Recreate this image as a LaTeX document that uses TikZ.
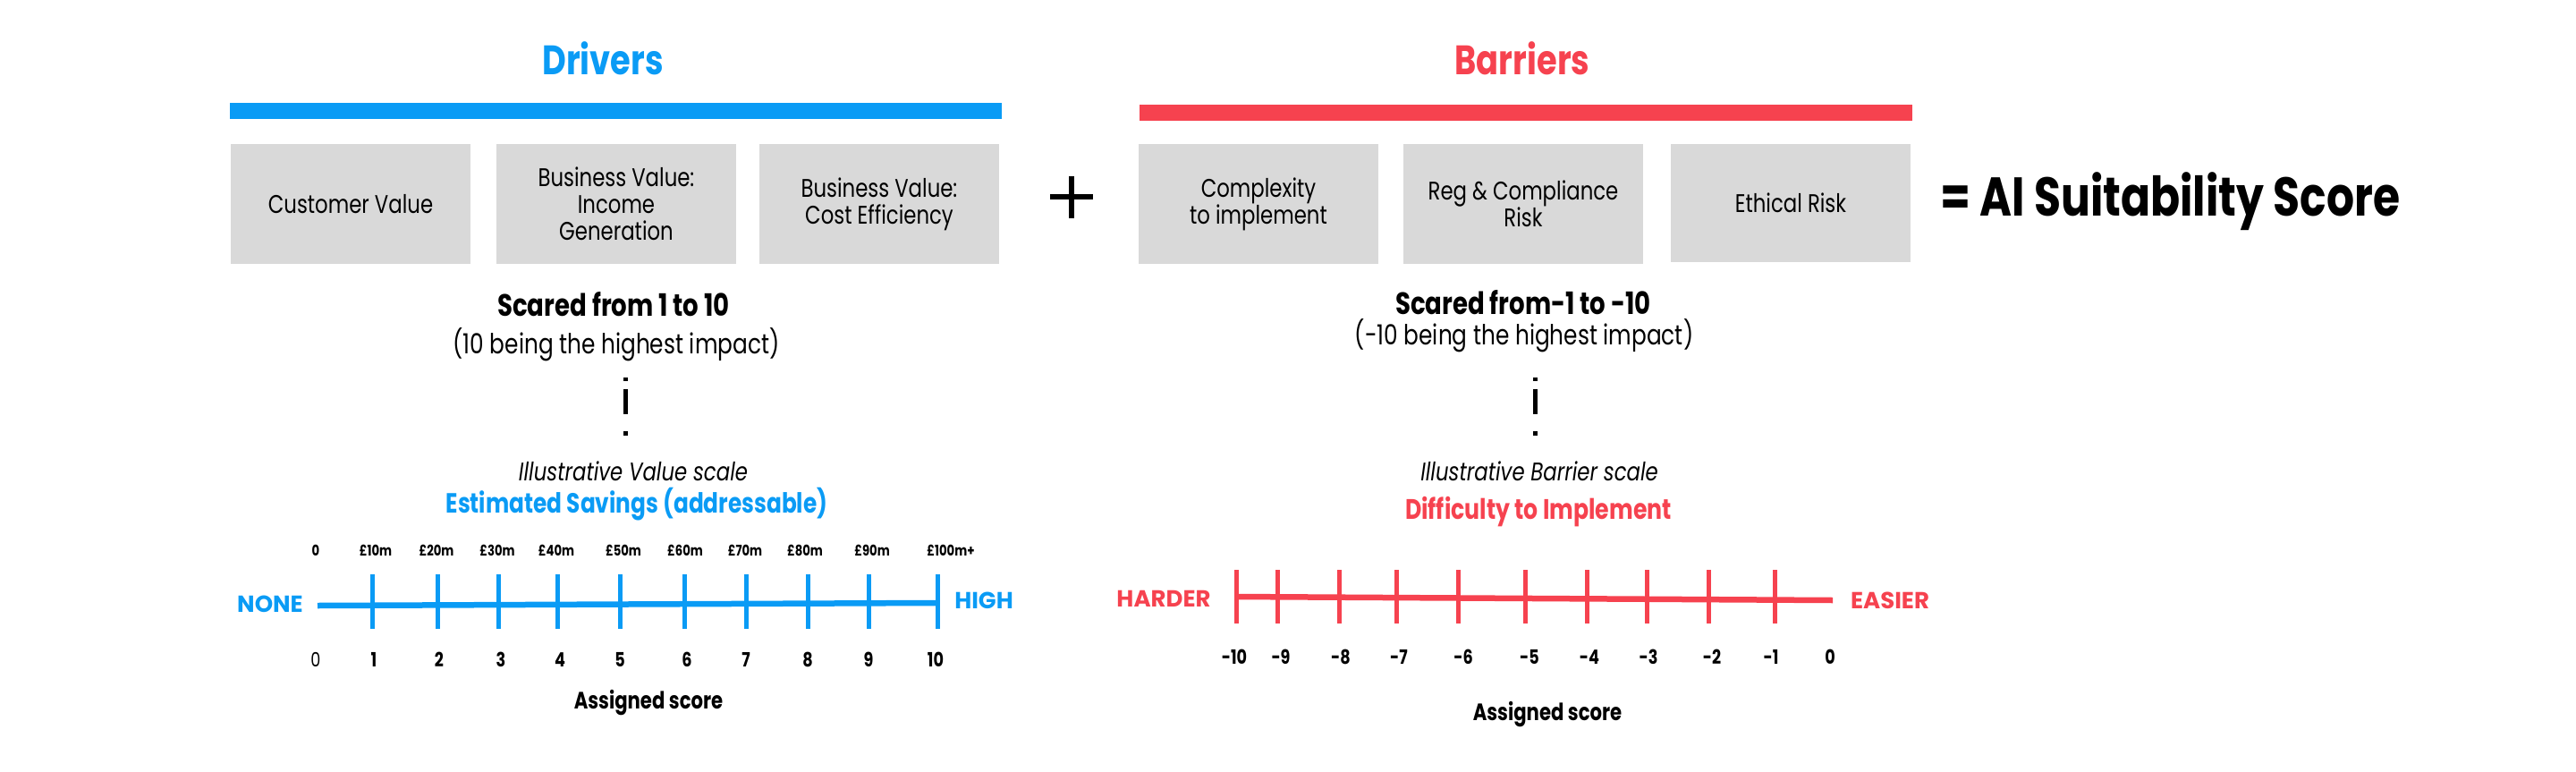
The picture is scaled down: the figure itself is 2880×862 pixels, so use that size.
\documentclass[tikz,border=0pt]{standalone}
\usepackage{fontspec}
\setmainfont{Poppins}[FakeStretch=0.8]
\newfontfamily\widefont{Poppins}
\usetikzlibrary{positioning}
\definecolor{dblue}{HTML}{0A9BF5}
\definecolor{bred}{HTML}{F6424F}
\definecolor{boxgray}{HTML}{D9D9D9}
\newcommand{\fsz}[1]{\fontsize{#1}{#1}\selectfont}
\tikzset{
  txt/.style={inner sep=0pt, anchor=base},
  card/.style={fill=boxgray, draw=none, inner sep=0pt, align=center,
     font=\fontsize{28.5}{30}\selectfont},
  title/.style={txt, font=\bfseries\fsz{46}},
  tickmark/.style={line width=5pt},
  axisline/.style={line width=6.5pt},
  sep/.style={line width=5pt, dash pattern=on 4pt off 9pt on 28pt off 19pt on 5pt},
  sclabel/.style={txt, font=\bfseries\fsz{16.5}},
  numlabel/.style={txt, font=\bfseries\fsz{22}},
  endlabel/.style={txt, font=\widefont\bfseries\fsz{26}},
}
\begin{document}
\begin{tikzpicture}[x=1pt,y=-1pt]
\useasboundingbox (0,0) rectangle (2880,862);
% titles
\node[title, text=dblue] (tdrv) at (674,83) {Drivers};
\node[title, text=bred] (tbar) at (1702,83) {Barriers};
% bars
\fill[dblue] (257,115) rectangle (1120,133);
\fill[bred] (1274,117) rectangle (2138,135);
% driver cards
\node[card, minimum width=268pt, minimum height=134pt] (d1) at (392,228) {Customer Value};
\node[card, minimum width=268pt, minimum height=134pt] (d2) at (689,228) {Business Value:\\Income\\Generation};
\node[card, minimum width=268pt, minimum height=134pt] (d3) at (983,228) {Business Value:\\Cost Efficiency};
% barrier cards
\node[card, minimum width=268pt, minimum height=134pt] (b1) at (1407,228) {Complexity\\to implement};
\node[card, minimum width=268pt, minimum height=134pt] (b2) at (1703,228) {Reg \& Compliance\\Risk};
\node[card, minimum width=268pt, minimum height=132pt] (b3) at (2002,227) {Ethical Risk};
% plus
\coordinate (plus) at (1198,220);
\draw[line width=6.5pt] ([xshift=-24pt]plus) -- ([xshift=24pt]plus);
\draw[line width=6.5pt] ([yshift=-24pt]plus) -- ([yshift=23pt]plus);
% result
\node[txt, anchor=base west, font=\bfseries\fsz{61}] (res) at (2169,241) {= AI Suitability Score};
% scoring text
\node[txt, font=\bfseries\fsz{34.5}] (sd) at (686,353) {Scared from 1 to 10};
\node[txt, font=\fsz{31}] (sd2) at (689,395) {(10 being the highest impact)};
\node[txt, font=\bfseries\fsz{34.5}] (sb) at (1703,351) {Scared from-1 to -10};
\node[txt, font=\fsz{31}] (sb2) at (1704,385) {(-10 being the highest impact)};
% separators
\draw[sep] (699,422) -- (699,487);
\draw[sep] (1716,422) -- (1716,487);
% scale headers
\node[txt, font=\itshape\fsz{28.5}] (ivs) at (708,537) {Illustrative Value scale};
\node[txt, font=\bfseries\fsz{31}, text=dblue] (es) at (712,573) {Estimated Savings (addressable)};
\node[txt, font=\itshape\fsz{28.5}] (ibs) at (1721,537) {Illustrative Barrier scale};
\node[txt, font=\bfseries\fsz{31.5}, text=bred] (dti) at (1720,580) {Difficulty to Implement};
% ---------- value scale ----------
\coordinate (vl) at (355,677);
\coordinate (vr) at (1046,674);
\draw[axisline, dblue] (vl) -- (vr);
\foreach \x in {416,489,557,623,693,765,834,903,971,1048}
  \draw[tickmark, dblue] (\x,642) -- (\x,703);
\node[endlabel, text=dblue] (none) at (302,684) {NONE};
\node[endlabel, text=dblue] (high) at (1100,680) {HIGH};
\foreach \x/\t in {353/0,420/£10m,488/£20m,556/£30m,622/£40m,697/£50m,766/£60m,833/£70m,900/£80m,975/£90m,1063/£100m+}
  \node[sclabel] at (\x,621) {\t};
\node[txt, font=\fsz{22}] (v0) at (353,745) {0};
\foreach \x/\t in {418/1,491/2,560/3,626/4,693/5,768/6,834/7,903/8,971/9,1046/10}
  \node[numlabel] at (\x,745) {\t};
\node[txt, font=\bfseries\fsz{26.5}] (as1) at (725,792) {Assigned score};
% ---------- barrier scale ----------
\coordinate (bl) at (1380,667);
\coordinate (br) at (2049,671);
\draw[axisline, bred] (bl) -- (br);
\foreach \x in {1382,1428,1497,1561,1630,1705,1774,1841,1910,1984}
  \draw[tickmark, bred] (\x,637) -- (\x,697);
\node[endlabel, text=bred] (harder) at (1301,678) {HARDER};
\node[endlabel, text=bred] (easier) at (2113,680) {EASIER};
\foreach \x/\t in {1380/-10,1432/-9,1499/-8,1564/-7,1636/-6,1710/-5,1777/-4,1843/-3,1914/-2,1980/-1,2046/0}
  \node[numlabel] at (\x,742) {\t};
\node[txt, font=\bfseries\fsz{26.5}] (as2) at (1730,805) {Assigned score};
\end{tikzpicture}
\end{document}
